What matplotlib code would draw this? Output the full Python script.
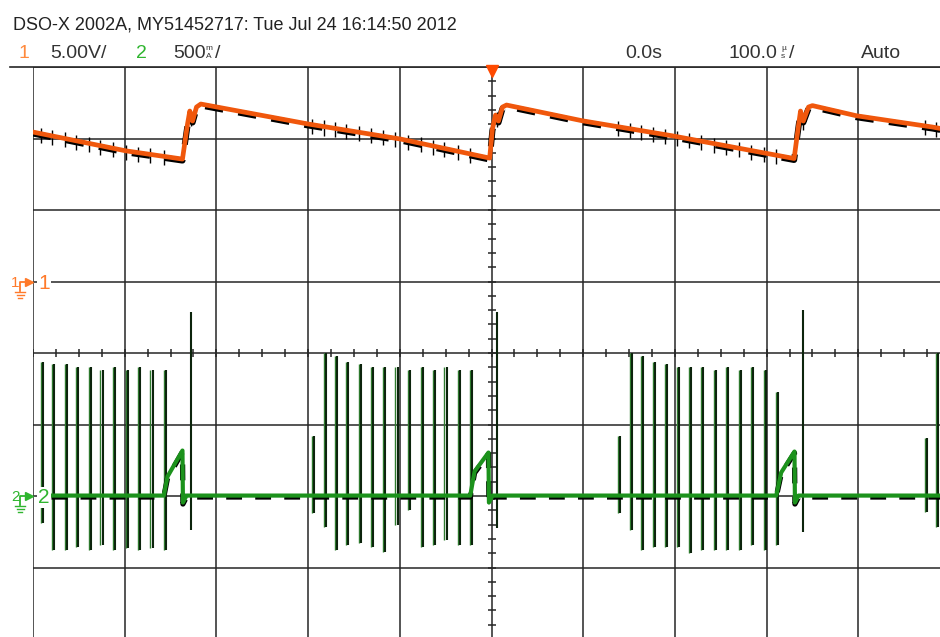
import matplotlib.pyplot as plt
import numpy as np

W, H = 940, 637

# channel 1 trace (time in us, volts)
ch1_t = [-500, -399, -337, -331.5, -329, -326, -321.7, -317, -199.6, -99, -2, 1, 4.4, 7.6, 12, 16.4,
         99, 197, 330, 335, 337, 340, 345.7, 350, 398, 481, 500]
ch1_v = [10.42, 9.11, 8.53, 10.98, 11.89, 11.19, 12.17, 12.38, 10.98, 9.93, 8.60, 10.63, 11.61, 11.19, 12.17, 12.31,
         11.21, 10.16, 8.57, 10.98, 11.89, 11.19, 12.17, 12.27, 11.56, 10.77, 10.55]

# channel 2 baseline + ramps (time in us, amps)
ch2_t = [-479.8, -357.4, -353.3, -337.0, -336.5, -332.6, -23.2, -18.5, -3.3, -2.8, 1.1,
         310.5, 315.9, 330.4, 330.9, 334.8, 500]
ch2_i = [0, 0, 0.133, 0.315, -0.049, 0, 0, 0.168, 0.301, -0.049, 0,
         0, 0.161, 0.308, -0.049, 0, 0]

# channel 2 switching pulses
pulse_t = [-491.8, -479.1, -465.6, -452.9, -439.1, -426.4, -413.0, -398.4, -385.7, -371.9, -357.4,
           -196.0, -183.2, -171.2, -158.5, -144.7, -131.9, -118.5, -104.7, -91.3, -77.4, -64.0, -51.3, -36.8, -23.2,
           137.7, 150.5, 163.2, 175.9, 188.7, 202.5, 215.2, 228.7, 242.4, 255.9, 269.7, 283.2, 296.9, 310.5,
           472.2, 484.2]
pulse_hi = [0.937, 0.923, 0.923, 0.902, 0.902, 0.881, 0.902, 0.881, 0.902, 0.881, 0.881,
            0.420, 1.000, 0.979, 0.937, 0.923, 0.902, 0.902, 0.902, 0.881, 0.902, 0.881, 0.902, 0.881, 0.881,
            0.420, 1.000, 0.979, 0.937, 0.923, 0.902, 0.902, 0.902, 0.881, 0.902, 0.881, 0.902, 0.881, 0.727,
            0.406, 1.000]
pulse_lo = [-0.189, -0.378, -0.378, -0.357, -0.378, -0.343, -0.378, -0.364, -0.378, -0.364, -0.378,
            -0.119, -0.217, -0.378, -0.343, -0.329, -0.357, -0.392, -0.203, -0.098, -0.357, -0.343, -0.308, -0.343, -0.343,
            -0.119, -0.238, -0.378, -0.357, -0.357, -0.357, -0.399, -0.378, -0.378, -0.378, -0.378, -0.343, -0.378, -0.343,
            -0.112, -0.217]

# big turn-off spikes
spike_t = [-327.2, 6.2, 340.2]
spike_hi = [1.287, 1.287, 1.301]
spike_lo = [-0.238, -0.224, -0.252]

ORANGE = "#f0570c"
GREEN = "#1c921c"
GRID = "#262626"


def fx(x):
    return x / W


def fy(y):
    return 1 - y / H


fig = plt.figure(figsize=(W / 100, H / 100), dpi=100)
# graticule spans px 33..950 horizontally, 67..639 vertically (clipped by image edge)
ax = fig.add_axes([fx(33), fy(639), (950 - 33) / W, (639 - 67) / H])
ax.set_xlim(-500, 500)
ax.set_ylim(-25, 15)
ax.set_xticks(np.arange(-500, 501, 100))
ax.set_yticks(np.arange(-25, 16, 5))
ax.grid(color=GRID, lw=1.1, zorder=1)
ax.tick_params(length=0, labelleft=False, labelbottom=False)
for s in ax.spines.values():
    s.set_visible(False)

# minor ticks on the centre lines
ax.plot(np.arange(-500, 501, 25), np.full(41, -5.0), ls="none", marker="|", ms=6, mew=1.1, color=GRID, zorder=1)
ax.plot(np.zeros(41), np.arange(-25, 15.1, 1), ls="none", marker="_", ms=6, mew=1.1, color=GRID, zorder=1)

# channel 1
ch1_c = np.interp(pulse_t + spike_t, ch1_t, ch1_v)
ax.vlines(pulse_t + spike_t, ch1_c - 0.6, ch1_c + 0.45, colors="black", lw=1.0, zorder=3)
ax.plot(ch1_t, np.array(ch1_v) - 0.07, color="black", lw=4.4, dashes=(3, 2.5), zorder=3)
ax.plot(ch1_t, np.array(ch1_v) + 0.03, color=ORANGE, lw=3.4, zorder=4)

# channel 2
ax2 = ax.twinx()
ax2.set_ylim(-1, 3)
ax2.axis("off")
ax2.vlines(pulse_t, pulse_lo, pulse_hi, colors="#2f7d2f", lw=1.0, zorder=3)
ax2.vlines(np.array(pulse_t) + 2.3, pulse_lo, pulse_hi, colors="#0c240c", lw=1.5, zorder=3)
ax2.vlines(spike_t, spike_lo, spike_hi, colors="#0c240c", lw=1.5, zorder=3)
ax2.plot(ch2_t, np.array(ch2_i) - 0.007, color="black", lw=3.8, dashes=(3, 2.5), zorder=4)
ax2.plot(ch2_t, np.array(ch2_i) + 0.003, color=GREEN, lw=3.0, zorder=5)

# top frame line and trigger marker
fig.add_artist(plt.Line2D([fx(10), fx(940)], [fy(67), fy(67)], color=GRID, lw=1.2))
fig.add_artist(plt.Line2D([fx(492)], [fy(71)], marker="v", ms=9, color="#ff4a00", mec="#ff4a00"))

# header text
fam = ["Liberation Sans", "DejaVu Sans"]
fig.text(fx(13), fy(29), "DSO-X 2002A, MY51452717: Tue Jul 24 16:14:50 2012", fontsize=13, family=fam, color="#222")
row = fy(58)
fig.text(fx(19), row, "1", fontsize=14, family=fam, color="#ff8a3d")
fig.text(fx(50), row, "5.00V/", fontsize=14, family=fam, color="#333")
fig.text(fx(136), row, "2", fontsize=14, family=fam, color="#2fb52f")
fig.text(fx(173), row, "500", fontsize=14, family=fam, color="#333")
fig.text(fx(205), fy(50), "m", fontsize=6, family=fam, color="#333")
fig.text(fx(206), row, "A", fontsize=6, family=fam, color="#333")
fig.text(fx(215), row, "/", fontsize=14, family=fam, color="#333")
fig.text(fx(625), row, "0.0s", fontsize=14, family=fam, color="#333")
fig.text(fx(729), row, "100.0", fontsize=14, family=fam, color="#333")
fig.text(fx(781), fy(50), "µ", fontsize=6, family=fam, color="#333")
fig.text(fx(781), row, "s", fontsize=6, family=fam, color="#333")
fig.text(fx(789), row, "/", fontsize=14, family=fam, color="#333")
fig.text(fx(861), row, "Auto", fontsize=14, family=fam, color="#333")


# channel ground markers
def ground_marker(y, label, color):
    fig.text(fx(11), fy(y + 5), label, fontsize=11, family=fam, color=color)
    fig.add_artist(plt.Line2D([fx(20), fx(20), fx(27)], [fy(y + 9), fy(y), fy(y)], color=color, lw=1.3))
    fig.add_artist(plt.Line2D([fx(29)], [fy(y)], marker=">", ms=6, color=color, mec=color))
    for dy, hw in [(10, 5), (13, 3.5), (16, 2)]:
        fig.add_artist(plt.Line2D([fx(20 - hw), fx(20 + hw)], [fy(y + dy), fy(y + dy)], color=color, lw=1.0))
    fig.text(fx(38), fy(y + 7), label, fontsize=15, family=fam, color=color,
             bbox=dict(fc="white", ec="none", pad=1))


ground_marker(282, "1", "#ff7a2a")
ground_marker(496, "2", "#2fb52f")

fig.savefig("out.png", dpi=100)
